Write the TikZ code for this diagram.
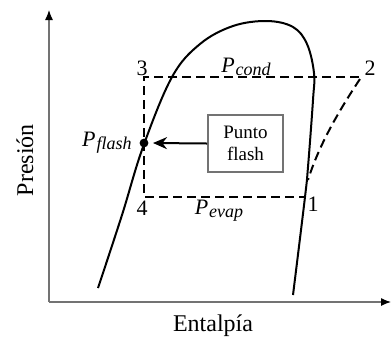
\documentclass[tikz,border=0pt]{standalone}
\usepackage{fontspec}
\setmainfont{Liberation Serif}
\usetikzlibrary{arrows.meta}
\begin{document}
\begin{tikzpicture}[x=0.5pt,y=-0.5pt,
  axis/.style={draw=black!55,line width=0.6pt,-{Latex[length=5pt,width=4pt,black]}},
  curve/.style={line width=1pt},
  dsh/.style={line width=1pt,dash pattern=on 4.5pt off 2.5pt},
  lbl/.style={font=\fontsize{11}{13}\selectfont,inner sep=0pt},
  plbl/.style={font=\fontsize{11}{13}\selectfont\itshape,inner sep=0pt},
  boxst/.style={draw=black!55,line width=0.8pt,minimum width=37.5pt,minimum height=28.5pt,align=center,font=\fontsize{9.5}{11}\selectfont,inner sep=1pt}]
\useasboundingbox (0,0) rectangle (391,345);
% axes
\coordinate (O) at (49,302);
\coordinate (Ytop) at (49,10);
\coordinate (Xend) at (391,302);
\draw[axis] (O) -- (Ytop);
\draw[axis] (O) -- (Xend);
\node[lbl,rotate=90,font=\fontsize{12}{14}\selectfont] (ylab) at (25,160) {Presión};
\node[lbl,font=\fontsize{12}{14}\selectfont] (xlab) at (213,326) {Entalpía};
% dome
\draw[curve] plot[smooth,tension=0.6] coordinates {(98,288) (122,215) (143,147) (172,77) (200,44) (233,26) (267,21) (293,27) (307,44) (314,73) (313,100) (308,167) (305,197) (293,295)};
% cycle points
\coordinate (p3) at (144,77);
\coordinate (p2) at (359,77);
\coordinate (p4) at (144,197);
\coordinate (p1) at (306,197);
\coordinate (pf) at (144,143);
\draw[dsh] (p2) -- (p3) -- (p4) -- (p1);
\draw[dsh] (360,79) .. controls (336,115) and (318,148) .. (308,180);
\fill (pf) circle (2.2pt);
% labels
\node[lbl] (n3) at (142,68) {3};
\node[lbl] (n2) at (370,68) {2};
\node[lbl] (n4) at (142,208) {4};
\node[lbl] (n1) at (313,204) {1};
\node[plbl] (lc) at (246,67) {P\kern0.5pt{\fontsize{9}{10}\selectfont\raisebox{-1.5pt}{cond}}};
\node[plbl] (le) at (219,211) {P\kern0.5pt{\fontsize{9}{10}\selectfont\raisebox{-1.5pt}{evap}}};
\node[plbl,anchor=east] (lf) at (132,143) {P\kern0.5pt{\fontsize{9}{10}\selectfont\raisebox{-1.5pt}{flash}}};
% box
\node[boxst] (box) at (245.5,143.5) {Punto\\flash};
\draw[line width=1pt,-{Stealth[length=7pt,width=6pt]}] (box.west) -- (153,143);
\end{tikzpicture}
\end{document}
